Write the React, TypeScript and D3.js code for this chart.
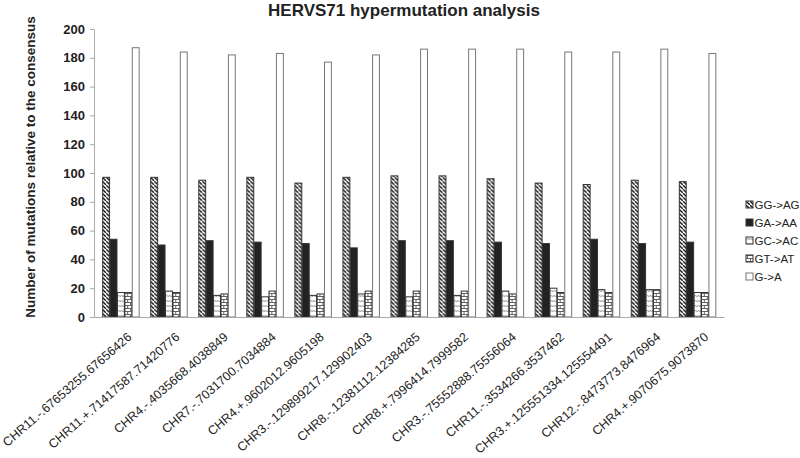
import React, { useEffect, useRef } from 'react';
import * as d3 from 'd3';

const categories = [
  'CHR11.-.67653255.67656426',
  'CHR11.+.71417587.71420776',
  'CHR4.-.4035668.4038849',
  'CHR7.-.7031700.7034884',
  'CHR4.+.9602012.9605198',
  'CHR3.-.129899217.129902403',
  'CHR8.-.12381112.12384285',
  'CHR8.+.7996414.7999582',
  'CHR3.-.75552888.75556064',
  'CHR11.-.3534266.3537462',
  'CHR3.+.125551334.125554491',
  'CHR12.-.8473773.8476964',
  'CHR4.+.9070675.9073870',
];

const seriesNames = ['GG->AG', 'GA->AA', 'GC->AC', 'GT->AT', 'G->A'];

const ggAg = [97, 97, 95, 97, 93, 97, 98, 98, 96, 93, 92, 95, 94];
const gaAa = [54, 50, 53, 52, 51, 48, 53, 53, 52, 51, 54, 51, 52];
const gcAc = [17, 18, 15, 14, 15, 16, 14, 15, 18, 20, 19, 19, 17];
const gtAt = [17, 17, 16, 18, 16, 18, 18, 18, 16, 17, 17, 19, 17];
const gA = [187, 184, 182, 183, 177, 182, 186, 186, 186, 184, 184, 186, 183];

const yTicks = [0, 20, 40, 60, 80, 100, 120, 140, 160, 180, 200];

const fills = ['url(#pDiag)', '#222', 'url(#pZig)', 'url(#pBrick)', '#fff'];

const App = () => {
  const svgRef = useRef<SVGSVGElement>(null);

  useEffect(() => {
    const width = 800;
    const height = 458;
    const margin = { top: 29, right: 76, bottom: 141, left: 94 };
    const innerW = width - margin.left - margin.right;
    const innerH = height - margin.top - margin.bottom;
    const font = 'Arial, "Liberation Sans", Helvetica, sans-serif';

    const root = d3.select(svgRef.current);
    root.selectAll('*').remove();
    root.attr('width', width).attr('height', height);

    const defs = root.append('defs');
    const diag = defs.append('pattern').attr('id', 'pDiag')
      .attr('patternUnits', 'userSpaceOnUse').attr('width', 4).attr('height', 4);
    diag.append('rect').attr('width', 4).attr('height', 4).attr('fill', '#fff');
    diag.append('path').attr('d', 'M-1,-1 l2,2 M0,0 l4,4 M3,3 l2,2')
      .attr('stroke', '#111').attr('stroke-width', 1.4);

    const zig = defs.append('pattern').attr('id', 'pZig')
      .attr('patternUnits', 'userSpaceOnUse').attr('width', 6).attr('height', 5);
    zig.append('rect').attr('width', 6).attr('height', 5).attr('fill', '#fff');
    zig.append('path').attr('d', 'M0,3 l1.5,-2 l1.5,2 l1.5,-2 l1.5,2')
      .attr('fill', 'none').attr('stroke', '#888').attr('stroke-width', 0.8);

    const brick = defs.append('pattern').attr('id', 'pBrick')
      .attr('patternUnits', 'userSpaceOnUse').attr('width', 6).attr('height', 6);
    brick.append('rect').attr('width', 6).attr('height', 6).attr('fill', '#fff');
    brick.append('path').attr('d', 'M0,0.5 h6 M0,3.5 h6 M1.5,0.5 v3 M4.5,3.5 v3')
      .attr('stroke', '#555').attr('stroke-width', 0.9);

    const svg = root.append('g').attr('transform', `translate(${margin.left},${margin.top})`);

    const x0 = d3.scaleBand().domain(categories).range([0, innerW]).paddingInner(0.23).paddingOuter(0.17);
    const x1 = d3.scaleBand().domain(seriesNames).range([0, x0.bandwidth()]);
    const y = d3.scaleLinear().domain([0, 200]).range([innerH, 0]);

    const series = [ggAg, gaAa, gcAc, gtAt, gA];

    // y axis
    const yAxis = svg.append('g').call(d3.axisLeft(y).tickValues(yTicks).tickSize(4).tickSizeOuter(0));
    yAxis.select('.domain').attr('stroke', '#aaa');
    yAxis.selectAll('.tick line').attr('stroke', '#aaa');
    yAxis.selectAll('.tick text').attr('font-family', font).attr('font-size', 13)
      .attr('font-weight', 'bold').attr('fill', '#222').attr('dx', -2);

    // bars
    categories.forEach((c, i) => {
      const g = svg.append('g').attr('transform', `translate(${x0(c)},0)`);
      seriesNames.forEach((s, k) => {
        const v = series[k][i];
        g.append('rect')
          .attr('x', x1(s)! + 0.5)
          .attr('y', y(v))
          .attr('width', x1.bandwidth() - 0.5)
          .attr('height', innerH - y(v))
          .attr('fill', fills[k])
          .attr('stroke', k === 4 ? '#777' : '#333')
          .attr('stroke-width', 1);
      });
    });

    // x axis
    const xAxis = svg.append('g').attr('transform', `translate(0,${innerH})`)
      .call(d3.axisBottom(x0).tickSize(0).tickSizeOuter(0));
    xAxis.select('.domain').attr('stroke', '#aaa');
    xAxis.selectAll('.tick text')
      .attr('font-family', font).attr('font-size', 12.5).attr('fill', '#222')
      .attr('text-anchor', 'end')
      .attr('transform', 'translate(9,18) rotate(-41)')
      .attr('dy', '0.35em').attr('y', 0);

    // title
    root.append('text').attr('x', 404).attr('y', 16).attr('text-anchor', 'middle')
      .attr('font-family', font).attr('font-size', 17).attr('font-weight', 'bold').attr('fill', '#222')
      .text('HERVS71 hypermutation analysis');

    // y label
    root.append('text').attr('transform', `translate(35,${margin.top + innerH / 2 - 6}) rotate(-90)`)
      .attr('text-anchor', 'middle').attr('font-family', font).attr('font-size', 13.5)
      .attr('font-weight', 'bold').attr('fill', '#222')
      .text('Number of mutations relative to the consensus');

    // legend
    const legend = root.append('g').attr('transform', 'translate(746,201)');
    seriesNames.forEach((s, k) => {
      const item = legend.append('g').attr('transform', `translate(0,${k * 18})`);
      item.append('rect').attr('x', 0).attr('y', 0).attr('width', 7).attr('height', 7)
        .attr('fill', fills[k]).attr('stroke', k === 4 ? '#777' : '#333');
      item.append('text').attr('x', 8.5).attr('y', 8).attr('font-family', font)
        .attr('font-size', 11.5).attr('fill', '#222').text(s);
    });
  }, []);

  return <svg ref={svgRef} style={{ display: 'block', position: 'absolute', left: 0, top: 0 }}></svg>;
};

export default App;
